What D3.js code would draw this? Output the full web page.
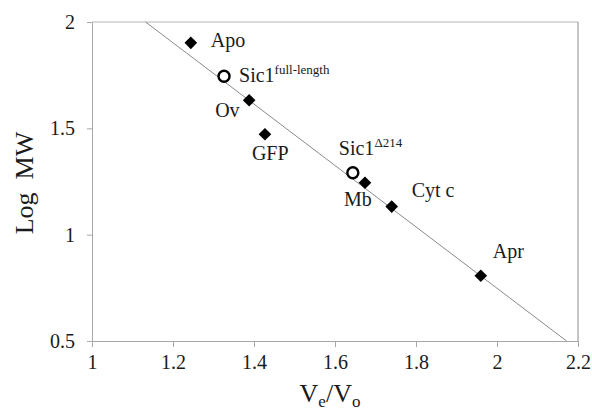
<!DOCTYPE html>
<html lang="en">
<head>
  <meta charset="UTF-8">
  <title>Log MW vs Ve/Vo</title>
  <script src='https://d3js.org/d3.v7.min.js'></script>
</head>
<body style="margin:0;background:#fff">
</body>
<script>
  // Standards (filled diamonds)
  const stdNames = ["Apo", "Ov", "GFP", "Mb", "Cyt c", "Apr"];
  const stdVeVo = [1.244, 1.388, 1.427, 1.674, 1.740, 1.960];
  const stdLogMW = [1.902, 1.632, 1.472, 1.244, 1.132, 0.807];
  // label offsets from the point, px
  const stdLabelDx = [20, -34, -13, -21, 20, 12];
  const stdLabelDy = [4, 17, 26, 23, -10, -18];

  // Sic1 samples (open circles)
  const sicNames = ["Sic1", "Sic1"];
  const sicSup = ["full-length", "\u0394214"];
  const sicVeVo = [1.326, 1.644];
  const sicLogMW = [1.745, 1.291];
  const sicLabelDx = [15, -14];
  const sicLabelDy = [6, -18];

  // Linear fit of the standards
  const fitSlope = -1.443;
  const fitIntercept = 3.634;

  const xTicks = [1, 1.2, 1.4, 1.6, 1.8, 2, 2.2];
  const yTicks = [0.5, 1, 1.5, 2];

  const width = 592, height = 412;
  const plotLeft = 92, plotRight = 578, plotTop = 22, plotBottom = 341;
  const serif = "Liberation Serif, Times New Roman, serif";

  const svg = d3.select("body").append("svg")
    .attr("width", width)
    .attr("height", height)
    .attr("font-family", serif);

  const x = d3.scaleLinear().domain([1, 2.2]).range([plotLeft, plotRight]);
  const y = d3.scaleLinear().domain([0.5, 2]).range([plotBottom, plotTop]);

  // plot area border (top, right)
  svg.append("line")
    .attr("x1", plotLeft).attr("x2", plotRight).attr("y1", plotTop).attr("y2", plotTop)
    .attr("stroke", "#b4b4b4");
  svg.append("line")
    .attr("x1", plotRight).attr("x2", plotRight).attr("y1", plotTop).attr("y2", plotBottom)
    .attr("stroke", "#8c8c8c");

  // axes
  const xAxis = svg.append("g")
    .attr("transform", `translate(0,${plotBottom})`)
    .call(d3.axisBottom(x).tickValues(xTicks).tickSizeInner(6).tickSizeOuter(0).tickPadding(8)
      .tickFormat(d3.format("")));
  const yAxis = svg.append("g")
    .attr("transform", `translate(${plotLeft},0)`)
    .call(d3.axisLeft(y).tickValues(yTicks).tickSizeInner(5).tickSizeOuter(0).tickPadding(12)
      .tickFormat(d3.format("")));

  [xAxis, yAxis].forEach(a => {
    a.attr("font-family", serif).attr("font-size", 20);
    a.select(".domain").attr("stroke", "#a8a8a8");
    a.selectAll(".tick line").attr("stroke", "#a8a8a8");
    a.selectAll(".tick text").attr("fill", "#1a1a1a");
  });

  // trend line across the y range
  const fitX = d => (d - fitIntercept) / fitSlope;
  const yEnds = y.domain().slice().reverse();
  svg.append("line")
    .attr("x1", x(fitX(yEnds[0]))).attr("y1", y(yEnds[0]))
    .attr("x2", x(fitX(yEnds[1]))).attr("y2", y(yEnds[1]))
    .attr("stroke", "#8a8a8a")
    .attr("stroke-width", 1);

  // standards
  const diamond = d3.symbol().type(d3.symbolSquare).size(80);
  svg.selectAll(".std")
    .data(stdNames)
    .enter()
    .append("path")
    .attr("class", "std")
    .attr("d", diamond)
    .attr("transform", (d, i) => `translate(${x(stdVeVo[i])},${y(stdLogMW[i])}) rotate(45)`)
    .attr("fill", "#000");

  svg.selectAll(".stdLabel")
    .data(stdNames)
    .enter()
    .append("text")
    .attr("class", "stdLabel")
    .attr("x", (d, i) => x(stdVeVo[i]) + stdLabelDx[i])
    .attr("y", (d, i) => y(stdLogMW[i]) + stdLabelDy[i])
    .attr("fill", "#1a1a1a")
    .attr("font-size", 20)
    .text(d => d);

  // Sic1 samples
  svg.selectAll(".sic")
    .data(sicNames)
    .enter()
    .append("circle")
    .attr("class", "sic")
    .attr("cx", (d, i) => x(sicVeVo[i]))
    .attr("cy", (d, i) => y(sicLogMW[i]))
    .attr("r", 5.5)
    .attr("fill", "#fff")
    .attr("stroke", "#000")
    .attr("stroke-width", 2.4);

  const sicText = svg.selectAll(".sicLabel")
    .data(sicNames)
    .enter()
    .append("text")
    .attr("class", "sicLabel")
    .attr("x", (d, i) => x(sicVeVo[i]) + sicLabelDx[i])
    .attr("y", (d, i) => y(sicLogMW[i]) + sicLabelDy[i])
    .attr("fill", "#1a1a1a")
    .attr("font-size", 20);
  sicText.append("tspan").text(d => d);
  sicText.append("tspan")
    .attr("dy", -8)
    .attr("font-size", 13)
    .text((d, i) => sicSup[i]);

  // axis titles
  const xTitle = svg.append("text")
    .attr("x", 330)
    .attr("y", 402)
    .attr("text-anchor", "middle")
    .attr("fill", "#1a1a1a")
    .attr("font-size", 26);
  xTitle.append("tspan").text("V");
  xTitle.append("tspan").attr("dy", 5).attr("font-size", 17).text("e");
  xTitle.append("tspan").attr("dy", -5).text("/V");
  xTitle.append("tspan").attr("dy", 5).attr("font-size", 17).text("o");

  svg.append("text")
    .attr("transform", "translate(33,183) rotate(-90)")
    .attr("text-anchor", "middle")
    .attr("fill", "#1a1a1a")
    .attr("font-size", 26)
    .style("white-space", "pre")
    .text("Log  MW");
</script>
</html>
